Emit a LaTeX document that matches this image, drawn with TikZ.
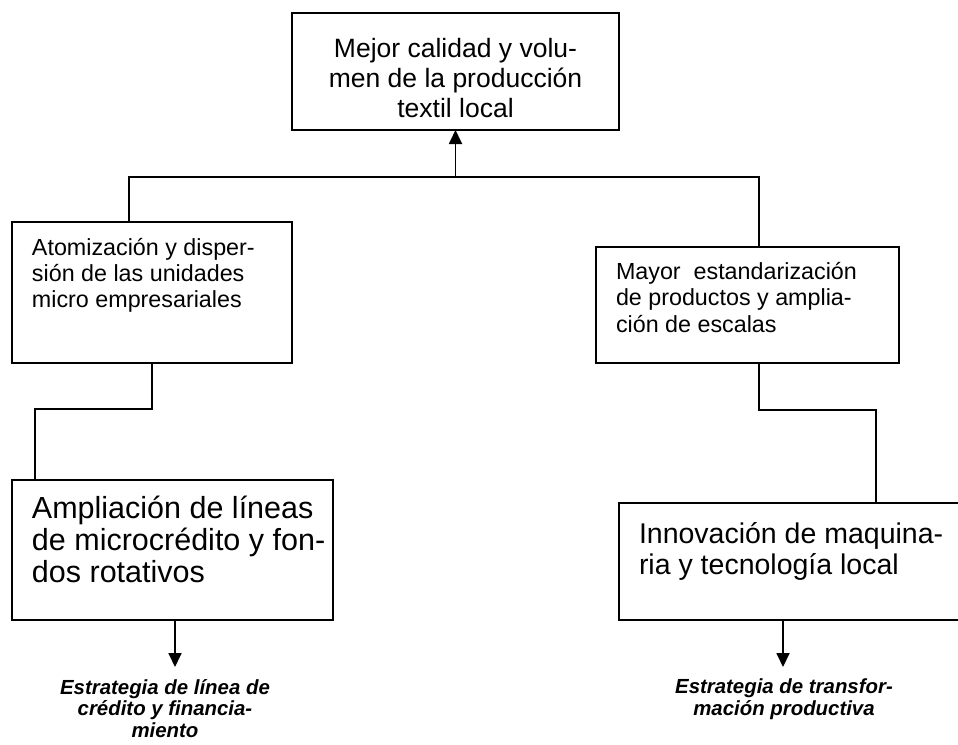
\documentclass[tikz,border=0pt]{standalone}
\usepackage{fontspec}
\setmainfont{Liberation Sans}
\usetikzlibrary{arrows.meta,positioning,calc}

% text set from the top of a box, first baseline at #3
\newcommand{\boxtext}[4]{\parbox[c][#1][t]{#2}{\raggedright\leftskip=20pt\rule{0pt}{#3}#4}}

\begin{document}
\begin{tikzpicture}[x=1pt,y=-1pt,>={Triangle[length=14pt,width=13pt]},
  box/.style={draw=black,line width=1.8pt,anchor=north west,inner sep=0pt,outer sep=0pt},
  link/.style={line width=1.8pt,draw=black},
  arr/.style={->,line width=1.8pt,draw=black},
  goal/.style={font=\bfseries\itshape\fontsize{20.4}{21.5}\selectfont,align=center,anchor=north,inner sep=0pt}]
\useasboundingbox (0,0) rectangle (958,744);
\node[box,minimum width=327pt,minimum height=117pt,font=\fontsize{26.5}{30}\selectfont] (mejor) at (292,13)
  {\parbox[c][117pt][t]{327pt}{\centering\rule{0pt}{44pt}Mejor calidad y volu-\\men de la producción\\textil local}};
\node[box,minimum width=280pt,minimum height=141pt,font=\fontsize{23.3}{26}\selectfont] (atom) at (12,222)
  {\boxtext{141pt}{280pt}{33pt}{Atomización y disper-\\sión de las unidades\\micro empresariales}};
\node[box,minimum width=303pt,minimum height=116pt,font=\fontsize{23.3}{26.5}\selectfont] (mayor) at (596,247)
  {\boxtext{116pt}{303pt}{32pt}{Mayor~ estandarización\\de productos y amplia-\\ción de escalas}};
\node[box,minimum width=321pt,minimum height=140pt,font=\fontsize{30.5}{32}\selectfont] (ampl) at (12,480)
  {\boxtext{140pt}{321pt}{38pt}{Ampliación de líneas\\de microcrédito y fon-\\dos rotativos}};
\node[box,minimum width=341pt,minimum height=117pt,font=\fontsize{28.5}{31}\selectfont] (innov) at (619,503)
  {\boxtext{117pt}{341pt}{40pt}{Innovación de maquina-\\ria y tecnología local}};
\node[goal] (goalL) at (165,679) {Estrategia de línea de\\crédito y financia-\\miento};
\node[goal] (goalR) at (784,679) {Estrategia de transfor-\\mación productiva};
\coordinate (busL) at (129,177);
\coordinate (busR) at (759,177);
\coordinate (kneeL) at (35,409);
\coordinate (kneeR) at (876,410);
\coordinate (tipL) at (175,667);
\coordinate (tipR) at (783,667);
\draw[link] (busL |- atom.north) -- (busL) -- (busR) -- (busR |- mayor.north);
\draw[arr] (mejor.south |- busL) -- (mejor.south);
\draw[link] (atom.south) |- (kneeL) -- (kneeL |- ampl.north);
\draw[link] (busR |- mayor.south) |- (kneeR) -- (kneeR |- innov.north);
\draw[arr] (tipL |- ampl.south) -- (tipL);
\draw[arr] (tipR |- innov.south) -- (tipR);
\end{tikzpicture}
\end{document}
